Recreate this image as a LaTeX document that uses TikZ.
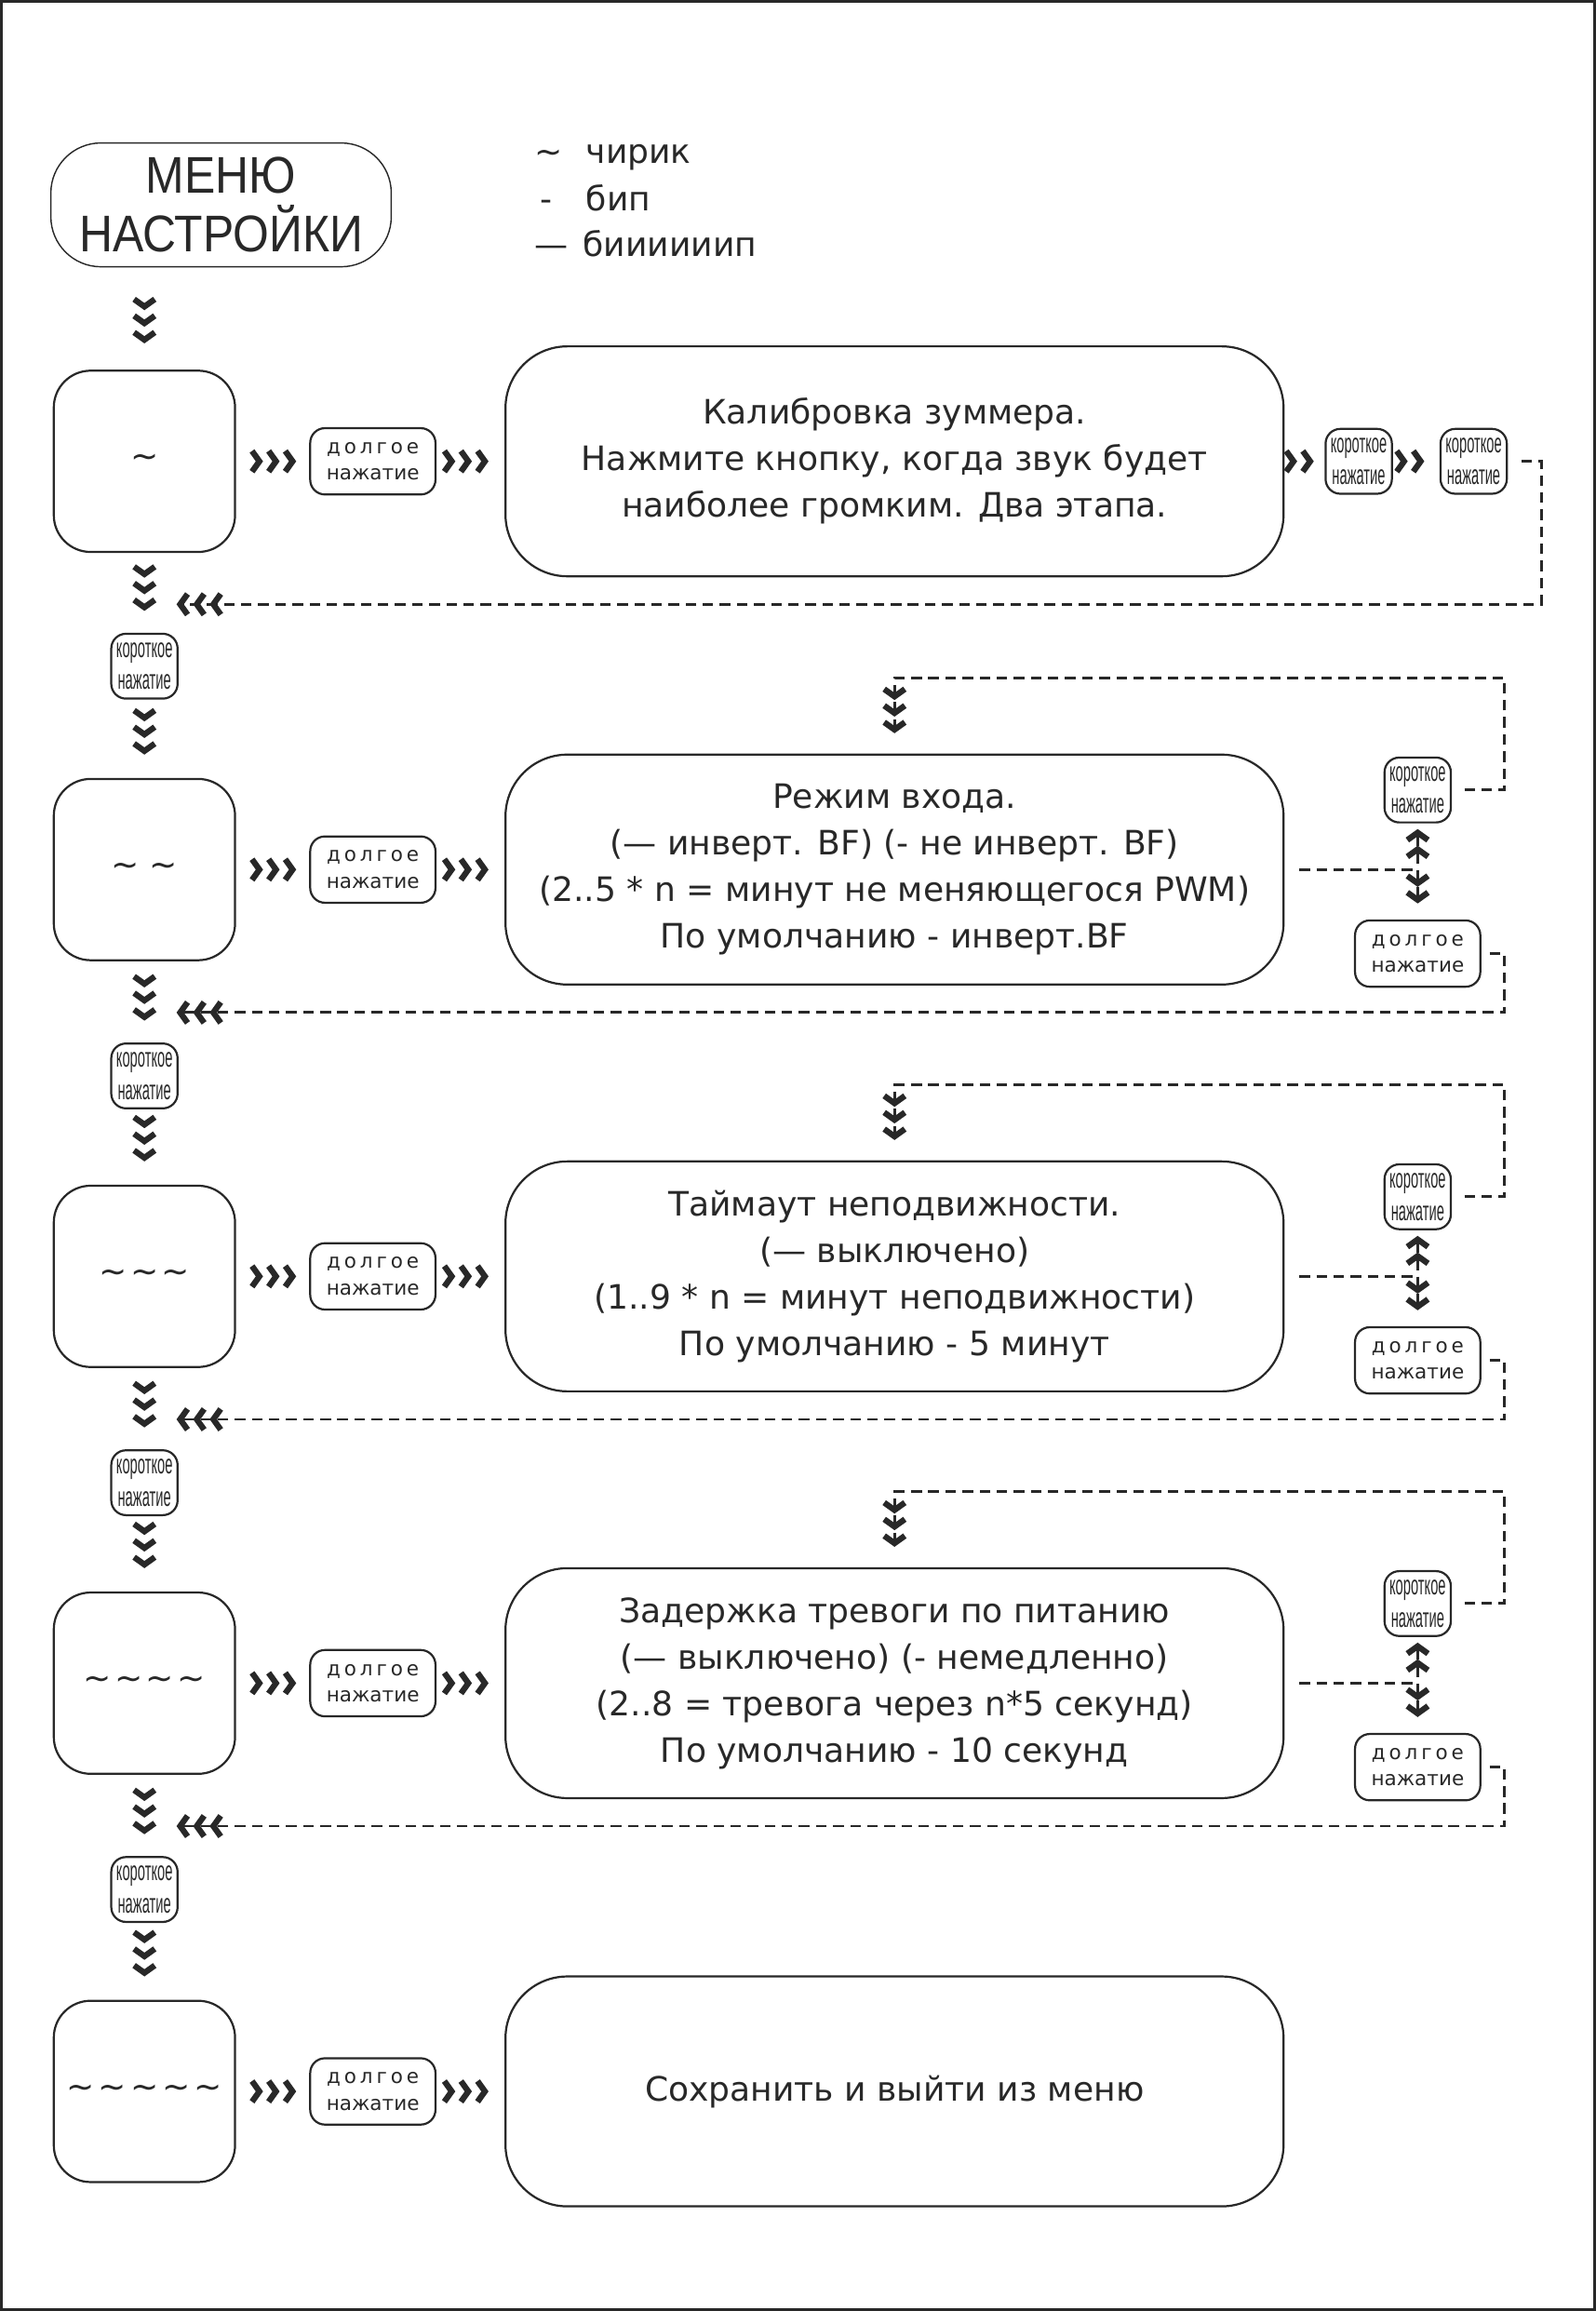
\documentclass[tikz,border=0pt]{standalone}
\usepackage{fontspec}
\setmainfont{DejaVu Sans}
\newfontfamily\titlefont[FakeStretch=0.9]{Liberation Sans}
\newfontfamily\narrowfont[FakeStretch=0.5]{Liberation Sans}
\newfontfamily\spacedfont[LetterSpace=18]{DejaVu Sans}
\usepackage{xcolor}
\usepackage{tikz}
\usetikzlibrary{arrows.meta}
\definecolor{ink}{RGB}{40,40,40}
\newcommand{\chirp}{\textasciitilde}

\begin{document}
\begin{tikzpicture}[x=0.5pt, y=-0.5pt, color=ink, line width=0.7pt,
    chev/.tip={Straight Barb[color=ink, length=2.5pt, width=7pt, line width=2pt, sep=0.9pt]},
    chevs/.style={draw=white, -{chev[]chev[]chev[]}},
    chevtwo/.style={draw=white, -{chev[]chev[]}},
    backline/.style={dash pattern=on 3.6pt off 2.2pt, line width=0.9pt},
    menubox/.style={draw, rounded corners=12.5pt, minimum width=61.5pt, minimum height=61.5pt, inner sep=0pt, font=\fontsize{11.4}{14}\selectfont},
    infobox/.style={draw, rounded corners=21pt, minimum width=264pt, minimum height=78pt, inner sep=0pt, align=center, font=\fontsize{11.4}{15.8}\selectfont},
    longpress/.style={draw, rounded corners=5pt, minimum width=42.5pt, minimum height=22.5pt, inner sep=0pt, align=center, font=\fontsize{6.8}{9}\selectfont},
    shortpress/.style={draw, rounded corners=5pt, minimum width=22.5pt, minimum height=22pt, inner sep=0pt, align=center, font=\narrowfont\fontsize{9.3}{11}\selectfont}]

  \useasboundingbox (0,0) rectangle (1083,1568);
  \draw[line width=1pt] (1,1) rectangle (1082,1567);

  % header and legend
  \node[draw, line width=0.45pt, rounded corners=17pt, minimum width=115.5pt, minimum height=42pt, inner sep=0pt, align=center, font=\titlefont\fontsize{17.5}{20}\selectfont] (menu) at (150,139) {МЕНЮ\\НАСТРОЙКИ};
  \begin{scope}[font=\fontsize{11.4}{14}\selectfont]
    \node[anchor=base west, inner sep=0pt] (leg1) at (362,111) {\makebox[17.5pt][l]{\chirp}чирик};
    \node[anchor=base west, inner sep=0pt] (leg2) at (362,143) {\makebox[17.5pt][l]{\,-}бип};
    \node[anchor=base west, inner sep=0pt] (leg3) at (362,174) {\makebox[16.5pt][l]{—}биииииип};
  \end{scope}

  % menu items
  \node[menubox] (n1) at (98,313) {\chirp};
  \node[menubox] (n2) at (98,590) {\chirp\ \chirp};
  \node[menubox] (n3) at (98,866) {\chirp\kern1pt\chirp\kern1pt\chirp};
  \node[menubox] (n4) at (98,1142) {\chirp\kern1pt\chirp\kern1pt\chirp\kern1pt\chirp};
  \node[menubox] (n5) at (98,1419) {\chirp\kern1.3pt\chirp\kern1.3pt\chirp\kern1.3pt\chirp\kern1.3pt\chirp};

  \foreach \i/\y in {1/313,2/590,3/866,4/1142,5/1419}
    \node[longpress] (lp\i) at (253,\y) {{\spacedfont долгое}\\нажатие};

  \node[infobox] (b1) at (607,313) {Калибровка зуммера.\\Нажмите кнопку, когда звук будет\\наиболее громким. Два этапа.};
  \node[infobox] (b2) at (607,590) {Режим входа.\\(— инверт. BF) (- не инверт. BF)\\(2..5 * n = минут не меняющегося PWM)\\По умолчанию - инверт.BF};
  \node[infobox] (b3) at (607,866) {Таймаут неподвижности.\\(— выключено)\\(1..9 * n = минут неподвижности)\\По умолчанию - 5 минут};
  \node[infobox] (b4) at (607,1142) {Задержка тревоги по питанию\\(— выключено) (- немедленно)\\(2..8 = тревога через n*5 секунд)\\По умолчанию - 10 секунд};
  \node[infobox] (b5) at (607,1419) {Сохранить и выйти из меню};

  % short presses
  \foreach \i/\y in {1/452,2/730,3/1006,4/1282}
    \node[shortpress] (sp\i) at (98,\y) {короткое\\нажатие};
  \node[shortpress] (s1a) at (922,313) {короткое\\нажатие};
  \node[shortpress] (s1b) at (1000,313) {короткое\\нажатие};
  \foreach \i/\y in {2/590,3/866,4/1142} {
    \node[shortpress] (ls\i) at (962,\y-54) {короткое\\нажатие};
    \node[longpress] (ll\i) at (962,\y+57) {{\spacedfont долгое}\\нажатие};
  }
  \foreach \i/\y in {1/410,2/687,3/963,4/1239}
    \coordinate (ret\i) at (118,\y);

  % forward chevrons
  \draw[chevs, shorten <=12.5pt, shorten >=8pt] (n1 |- menu.south) -- (n1);
  \foreach \i in {1,...,5} {
    \draw[chevs, shorten <=6pt, shorten >=3.5pt] (n\i) -- (lp\i);
    \draw[chevs, shorten <=3.75pt, shorten >=4.5pt] (lp\i) -- (b\i);
  }
  \foreach \i [count=\j from 2] in {1,...,4} {
    \draw[chevs, shorten <=6pt, shorten >=6.5pt] (n\i) -- (sp\i);
    \draw[chevs, shorten <=5pt, shorten >=7pt] (sp\i) -- (n\j);
  }
  \draw[chevtwo, shorten <=2.5pt, shorten >=2.75pt] (b1) -- (s1a);
  \draw[chevtwo, shorten <=3.25pt, shorten >=4.25pt] (s1a) -- (s1b);

  % dashed returns
  \draw[backline, -{chev[]chev[]chev[]}] ([xshift=4.5pt]s1b.east) -| (1046,410) -- (ret1);
  \foreach \i/\y in {2/590,3/866,4/1142} {
    \coordinate (j\i) at (ls\i |- b\i);
    \draw[backline] ([xshift=5pt]b\i.east) -- (j\i);
    \draw[backline, {chev[]chev[]}-{chev[]chev[]}, shorten <=1pt, shorten >=4.5pt] (ls\i) -- (ll\i);
    \draw[backline, -{chev[]chev[]chev[]}, shorten >=6pt] ([xshift=4.25pt]ls\i.east) -| (1021,\y-130) -| (b\i.north);
    \draw[backline, -{chev[]chev[]chev[]}] ([xshift=2.75pt]ll\i.east) -| (1021,\y+97) -- (ret\i);
  }
\end{tikzpicture}
\end{document}
